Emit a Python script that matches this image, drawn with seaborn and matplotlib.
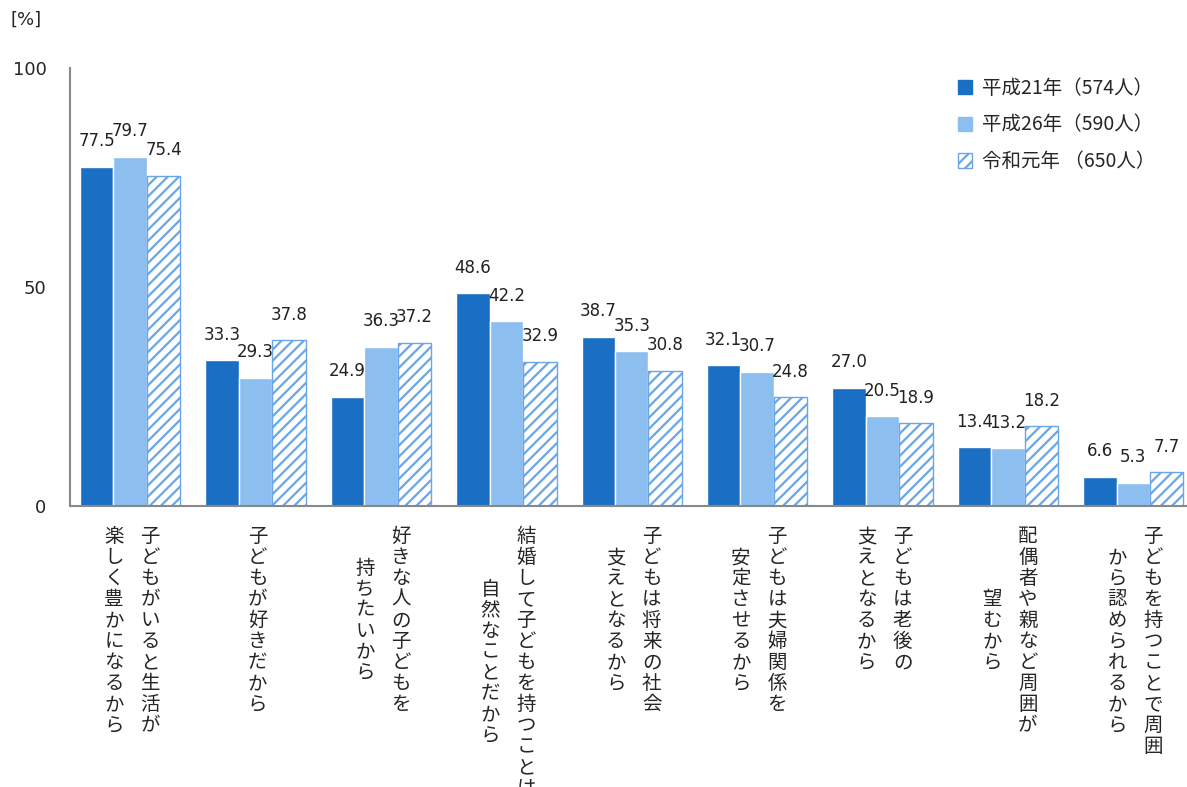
import numpy as np
import pandas as pd
import matplotlib
matplotlib.use("Agg")
import matplotlib.pyplot as plt
from matplotlib.patches import Patch
import seaborn as sns

# data
label_lines = [
    ["子どもがいると生活が", "楽しく豊かになるから"],
    ["子どもが好きだから"],
    ["好きな人の子どもを", "持ちたいから"],
    ["結婚して子どもを持つことは", "自然なことだから"],
    ["子どもは将来の社会", "支えとなるから"],
    ["子どもは夫婦関係を", "安定させるから"],
    ["子どもは老後の", "支えとなるから"],
    ["配偶者や親など周囲が", "望むから"],
    ["子どもを持つことで周囲", "から認められるから"],
]
categories = ["".join(l) for l in label_lines]
series_names = ["平成21年（574人）", "平成26年（590人）", "令和元年 （650人）"]
h21 = [77.5, 33.3, 24.9, 48.6, 38.7, 32.1, 27.0, 13.4, 6.6]
h26 = [79.7, 29.3, 36.3, 42.2, 35.3, 30.7, 20.5, 13.2, 5.3]
r01 = [75.4, 37.8, 37.2, 32.9, 30.8, 24.8, 18.9, 18.2, 7.7]

dark_blue = "#1a6ec3"
light_blue = "#8cbef0"
hatch_blue = "#6aa6e6"

df = pd.DataFrame({
    "cat": categories * 3,
    "year": [series_names[0]] * 9 + [series_names[1]] * 9 + [series_names[2]] * 9,
    "value": h21 + h26 + r01,
})

sns.set_style("white")
plt.rcParams["font.family"] = ["DejaVu Sans", "Noto Sans CJK JP"]
plt.rcParams["hatch.linewidth"] = 1.6

fig = plt.figure(figsize=(11.87, 7.87), dpi=100)
ax = fig.add_axes([70 / 1187, 0.357, (1196 - 70) / 1187, 0.5565])

sns.barplot(data=df, x="cat", y="value", hue="year", order=categories,
            hue_order=series_names, palette=[dark_blue, light_blue, hatch_blue],
            width=0.8, gap=0, saturation=1, legend=False, ax=ax)

for bar in ax.containers[2]:
    bar.set_facecolor("white")
    bar.set_edgecolor(hatch_blue)
    bar.set_hatch("///")
    bar.set_linewidth(1)

for c in ax.containers:
    ax.bar_label(c, fmt="%.1f", padding=12, fontsize=12, color="#222222")

ax.set_xlim(-0.48, 8.5)
ax.set_ylim(0, 100)
ax.set_yticks([0, 50, 100])
ax.set_xticks(np.arange(0.5, 9, 1))
ax.set_xticklabels([])
ax.tick_params(axis="y", direction="in", length=4, color="#888888",
               labelsize=13, pad=17)
ax.tick_params(axis="x", direction="in", length=7, color="#888888")
ax.set_xlabel("")
ax.set_ylabel("")
for s in ["top", "right"]:
    ax.spines[s].set_visible(False)
for s in ["left", "bottom"]:
    ax.spines[s].set_color("#888888")
    ax.spines[s].set_linewidth(1.5)

# vertical category labels (columns right to left)
cjk = ["Noto Sans CJK JP", "DejaVu Sans"]
col_gap = 36
for i, lines in enumerate(label_lines):
    n = len(lines)
    first_dx = (n - 1) * col_gap / 2 + 2
    t1 = ax.annotate("\n".join(lines[0]), xy=(i, 0), xycoords=("data", "axes fraction"),
                     xytext=(first_dx, -20), textcoords="offset pixels",
                     ha="center", va="top", fontsize=14, family=cjk,
                     linespacing=1.0, annotation_clip=False)
    for k in range(1, n):
        ax.annotate("\n".join(lines[k]), xy=(0.5, 0.5), xycoords=t1,
                    xytext=(-col_gap * k, 0), textcoords="offset pixels",
                    ha="center", va="center", fontsize=14, family=cjk,
                    linespacing=1.0, annotation_clip=False)

fig.text(10 / 1187, 1 - 20 / 787, "[%]", fontsize=13, va="center", ha="left")

handles = [
    Patch(facecolor=dark_blue, edgecolor=dark_blue),
    Patch(facecolor=light_blue, edgecolor=light_blue),
    Patch(facecolor="white", edgecolor=hatch_blue, hatch="///"),
]
fig.legend(handles, series_names, loc="upper left",
           bbox_to_anchor=(940 / 1187, 1 - 60 / 787), frameon=False,
           handlelength=0.75, handleheight=0.75,
           handletextpad=0.5, labelspacing=0.82, prop={"family": cjk, "size": 14})

fig.savefig("out.png", dpi=100)
